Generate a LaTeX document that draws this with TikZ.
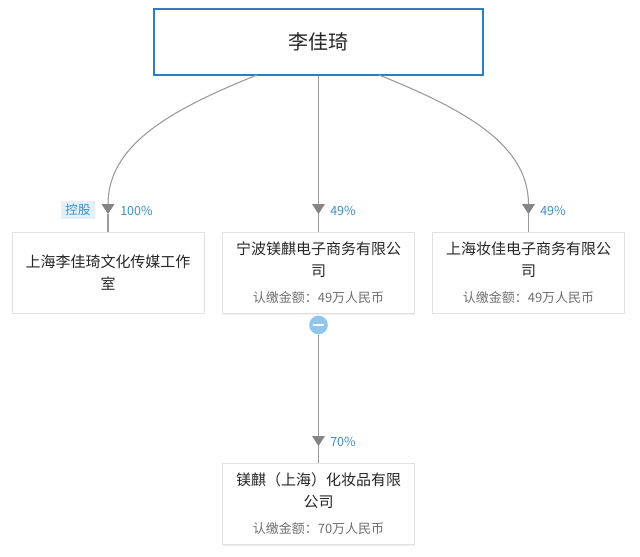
\documentclass[tikz,border=0pt]{standalone}
\usepackage{fontspec}
\setmainfont{Noto Sans CJK SC}
\usetikzlibrary{arrows.meta,shadows}
\definecolor{boxblue}{HTML}{2B7EC1}
\definecolor{linegray}{HTML}{9A9A9A}
\definecolor{arrowgray}{HTML}{858585}
\definecolor{textdark}{HTML}{262626}
\definecolor{subgray}{HTML}{707070}
\definecolor{labelblue}{HTML}{3D8FC9}
\definecolor{tagbg}{HTML}{E1F0FA}
\definecolor{circblue}{HTML}{8FC6EF}
\definecolor{boxline}{HTML}{E2E2E2}
\tikzset{
  personbox/.style={draw=boxblue, line width=1.5pt, fill=white, minimum width=246.75pt, minimum height=49.5pt, inner sep=0pt, text=textdark, font=\fontsize{15}{18}\selectfont},
  companybox/.style={draw=boxline, line width=0.75pt, fill=white, minimum width=144pt, minimum height=60.75pt, inner sep=0pt, align=center, text=textdark, font=\fontsize{11.25}{16.5}\selectfont,
    drop shadow={shadow xshift=0pt, shadow yshift=-0.8pt, opacity=0.12}},
  conn/.style={draw=linegray, line width=0.8pt},
  tipconn/.style={conn, -{Triangle[width=9.4pt,length=7.5pt,fill=arrowgray,color=arrowgray]}, shorten >=-0.1pt},
  pct/.style={text=labelblue, font=\fontsize{9.4}{10}\selectfont, anchor=west, inner sep=0pt},
  tag/.style={fill=tagbg, text=labelblue, font=\fontsize{9.4}{10}\selectfont, minimum width=25.5pt, minimum height=13.5pt, inner sep=0pt}
}
\newcommand{\subtxt}[1]{{\color{subgray}\fontsize{9.75}{12}\selectfont #1}}
\begin{document}
\begin{tikzpicture}[x=0.75pt,y=-0.75pt]
\useasboundingbox (0,0) rectangle (640,557);
\fill[white] (0,0) rectangle (640,557);

% nodes
\node[personbox] (top) at (318.5,42) {李佳琦};
\node[companybox] (c1) at (108,272.5) {上海李佳琦文化传媒工作\\室};
\node[companybox] (c2) at (318.5,273) {宁波镁麒电子商务有限公\\司\\[3pt]\subtxt{认缴金额：49万人民币}};
\node[companybox] (c3) at (528.5,272.5) {上海妆佳电子商务有限公\\司\\[3pt]\subtxt{认缴金额：49万人民币}};
\node[companybox] (c4) at (318.5,504) {镁麒（上海）化妆品有限\\公司\\[3pt]\subtxt{认缴金额：70万人民币}};

% arrow tip points
\coordinate (t1) at (108,214);
\coordinate (t2) at (318.5,214);
\coordinate (t3) at (528.5,214);
\coordinate (t4) at (318.5,446);
\coordinate (s1) at (257,75);
\coordinate (s3) at (379,75);

% connectors
\draw[tipconn] (s1) .. controls (170,110) and (108,145) .. (t1);
\draw[conn] (t1) -- (c1.north);
\draw[tipconn] (top.south) -- (t2);
\draw[conn] (t2) -- (c2.north);
\draw[tipconn] (s3) .. controls (466,110) and (528.5,145) .. (t3);
\draw[conn] (t3) -- (c3.north);

\node[circle, fill=circblue, minimum size=14pt, inner sep=0pt] (minus) at (318.5,325) {};
\draw[white, line width=1.6pt] ([xshift=-3.8pt]minus.center) -- ([xshift=3.8pt]minus.center);
\draw[tipconn] (minus.south) -- (t4);
\draw[conn] (t4) -- (c4.north);

% labels
\node[tag] (kg) at (78,210) {控股};
\node[pct] (p1) at (120,210.5) {100\%};
\node[pct] (p2) at (330,210.5) {49\%};
\node[pct] (p3) at (540,210.5) {49\%};
\node[pct] (p4) at (330,441.5) {70\%};
\end{tikzpicture}
\end{document}
